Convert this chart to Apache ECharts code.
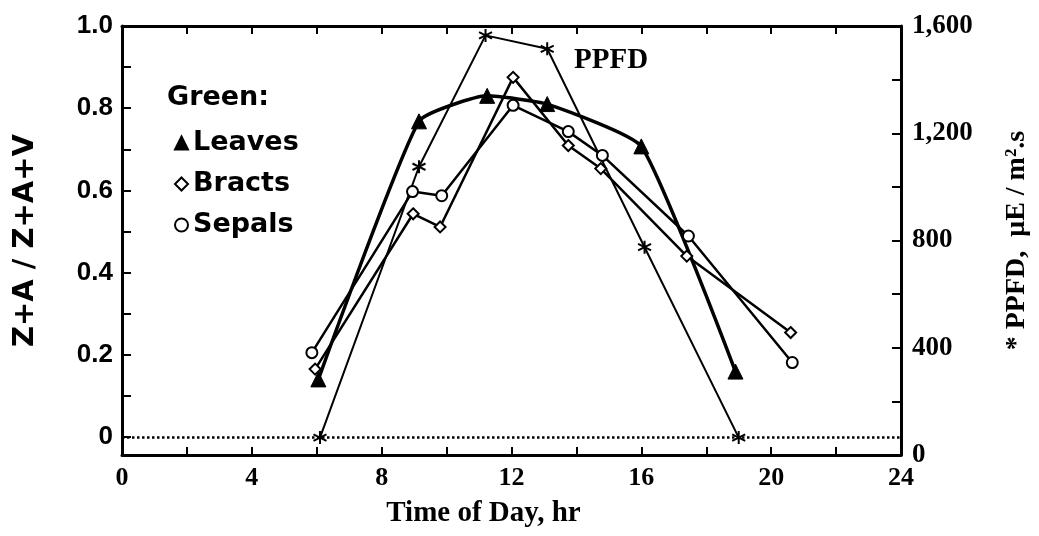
<!DOCTYPE html>
<html>
<head>
<meta charset="utf-8">
<script src="https://cdn.jsdelivr.net/npm/echarts@6/dist/echarts.min.js"></script>
<style>
  html, body { margin: 0; padding: 0; background: #fff; }
  #main { width: 1039px; height: 536px; }
</style>
</head>
<body>
<div id="main"></div>
<script>
// values
var ppfdHours   = [6.1, 9.15, 11.2, 13.1, 16.1, 19.0];
var ppfdValues  = [65, 1075, 1565, 1515, 775, 65];

var leavesHours  = [6.05, 9.15, 11.25, 13.1, 16.0, 18.9];
var leavesValues = [0.14, 0.768, 0.83, 0.81, 0.707, 0.159];

var bractsHours  = [5.95, 8.97, 9.8, 12.05, 13.75, 14.75, 17.4, 20.6];
var bractsValues = [0.165, 0.543, 0.511, 0.875, 0.709, 0.653, 0.44, 0.254];

var sepalsHours  = [5.85, 8.95, 9.85, 12.05, 13.75, 14.8, 17.45, 20.65];
var sepalsValues = [0.205, 0.597, 0.587, 0.807, 0.743, 0.685, 0.489, 0.181];

var leftLabels = [0, 0.2, 0.4, 0.6, 0.8, 1.0];
var leftTicks  = [0, 0.1, 0.2, 0.3, 0.4, 0.5, 0.6, 0.7, 0.8, 0.9, 1.0];

function pairs(xs, ys) {
  var out = [];
  for (var i = 0; i < xs.length; i++) out.push([xs[i], ys[i]]);
  return out;
}

var sans = '"DejaVu Sans", sans-serif';
var serif = '"Liberation Serif", "DejaVu Serif", serif';
var axisLine = { show: true, onZero: false, lineStyle: { color: '#000', width: 3 } };
var tickStyle = { color: '#000', width: 2 };
var starPath = 'path://M0,-10L0,10M-8.66,-5L8.66,5M-8.66,5L8.66,-5';

var chart = echarts.init(document.getElementById('main'));
var option = {
  animation: false,
  backgroundColor: '#fff',
  title: [
    { text: 'Green:', left: 167, top: 84, padding: 0,
      textStyle: { fontFamily: sans, fontWeight: 'bold', fontSize: 27, color: '#000' } },
    { text: 'PPFD', left: 574, top: 46, padding: 0,
      textStyle: { fontFamily: serif, fontWeight: 'bold', fontSize: 29, color: '#000' } }
  ],
  legend: {
    orient: 'vertical',
    left: 174,
    top: 128,
    itemWidth: 13,
    itemHeight: 13,
    itemGap: 11,
    padding: 0,
    textStyle: { fontFamily: sans, fontWeight: 'bold', fontSize: 27, color: '#000', lineHeight: 30 },
    data: [
      { name: 'Leaves', icon: 'triangle' },
      { name: 'Bracts', icon: 'diamond' },
      { name: 'Sepals', icon: 'circle' }
    ]
  },
  grid: { left: 122, right: 134, top: 26, bottom: 81 },
  xAxis: [
    {
      type: 'value', min: 0, max: 24, interval: 4,
      name: 'Time of Day, hr', nameLocation: 'middle', nameGap: 44,
      nameTextStyle: { fontFamily: serif, fontWeight: 'bold', fontSize: 29, color: '#000', padding: [0, 56, 0, 0] },
      axisLine: axisLine,
      axisTick: { inside: true, length: 8, lineStyle: tickStyle },
      minorTick: { show: true, splitNumber: 2, length: 8, lineStyle: tickStyle },
      axisLabel: { margin: 10, fontFamily: serif, fontWeight: 'bold', fontSize: 26, color: '#000' },
      splitLine: { show: false }
    },
    {
      type: 'value', min: 0, max: 24, interval: 4, position: 'top',
      axisLine: axisLine,
      axisTick: { inside: true, length: 8, lineStyle: tickStyle },
      minorTick: { show: true, splitNumber: 2, length: 8, lineStyle: tickStyle },
      axisLabel: { show: false },
      splitLine: { show: false }
    }
  ],
  yAxis: [
    {
      type: 'value', min: -0.044, max: 1.0,
      name: 'Z+A / Z+A+V', nameLocation: 'middle', nameGap: 82,
      nameTextStyle: { fontFamily: sans, fontWeight: 'bold', fontSize: 29, color: '#000' },
      axisLine: axisLine,
      axisTick: { inside: true, length: 9, customValues: leftTicks, lineStyle: tickStyle },
      axisLabel: {
        customValues: leftLabels, margin: 9,
        fontFamily: '"Liberation Sans", Arial, sans-serif', fontWeight: 'bold', fontSize: 26, color: '#000',
        formatter: function (v) { return v === 0 ? '0' : v.toFixed(1); }
      },
      splitLine: { show: false }
    },
    {
      type: 'value', min: 0, max: 1600, interval: 400, position: 'right',
      name: '* PPFD,  \u03bcE / m\u00b2.s', nameLocation: 'middle', nameGap: 102,
      nameTextStyle: { fontFamily: serif, fontWeight: 'bold', fontSize: 28, color: '#000' },
      axisLine: axisLine,
      axisTick: { inside: true, length: 9, lineStyle: tickStyle },
      minorTick: { show: true, splitNumber: 2, length: 9, lineStyle: tickStyle },
      axisLabel: {
        margin: 11, fontFamily: serif, fontWeight: 'bold', fontSize: 27, color: '#000',
        formatter: function (v) { return v.toLocaleString('en-US'); }
      },
      splitLine: { show: false }
    }
  ],
  series: [
    {
      name: 'PPFD', type: 'line', yAxisIndex: 1,
      data: pairs(ppfdHours, ppfdValues),
      symbol: starPath, symbolSize: 13,
      itemStyle: { color: '#000', borderColor: '#000', borderWidth: 2 },
      lineStyle: { color: '#000', width: 2 },
      markLine: {
        silent: true, symbol: ['none', 'none'],
        label: { show: false },
        lineStyle: { color: '#000', type: 'dotted', width: 2.5 },
        data: [{ yAxis: 65 }]
      }
    },
    {
      name: 'Leaves', type: 'line', yAxisIndex: 0,
      data: pairs(leavesHours, leavesValues),
      smooth: 0.15,
      symbol: 'triangle', symbolSize: 15,
      itemStyle: { color: '#000', borderColor: '#000', borderWidth: 1 },
      lineStyle: { color: '#000', width: 3.5 }
    },
    {
      name: 'Bracts', type: 'line', yAxisIndex: 0,
      data: pairs(bractsHours, bractsValues),
      symbol: 'diamond', symbolSize: 11,
      itemStyle: { color: '#fff', borderColor: '#000', borderWidth: 2 },
      lineStyle: { color: '#000', width: 2.5 }
    },
    {
      name: 'Sepals', type: 'line', yAxisIndex: 0,
      data: pairs(sepalsHours, sepalsValues),
      symbol: 'circle', symbolSize: 11,
      itemStyle: { color: '#fff', borderColor: '#000', borderWidth: 2 },
      lineStyle: { color: '#000', width: 2.5 }
    }
  ]
};
chart.setOption(option);
</script>
</body>
</html>
